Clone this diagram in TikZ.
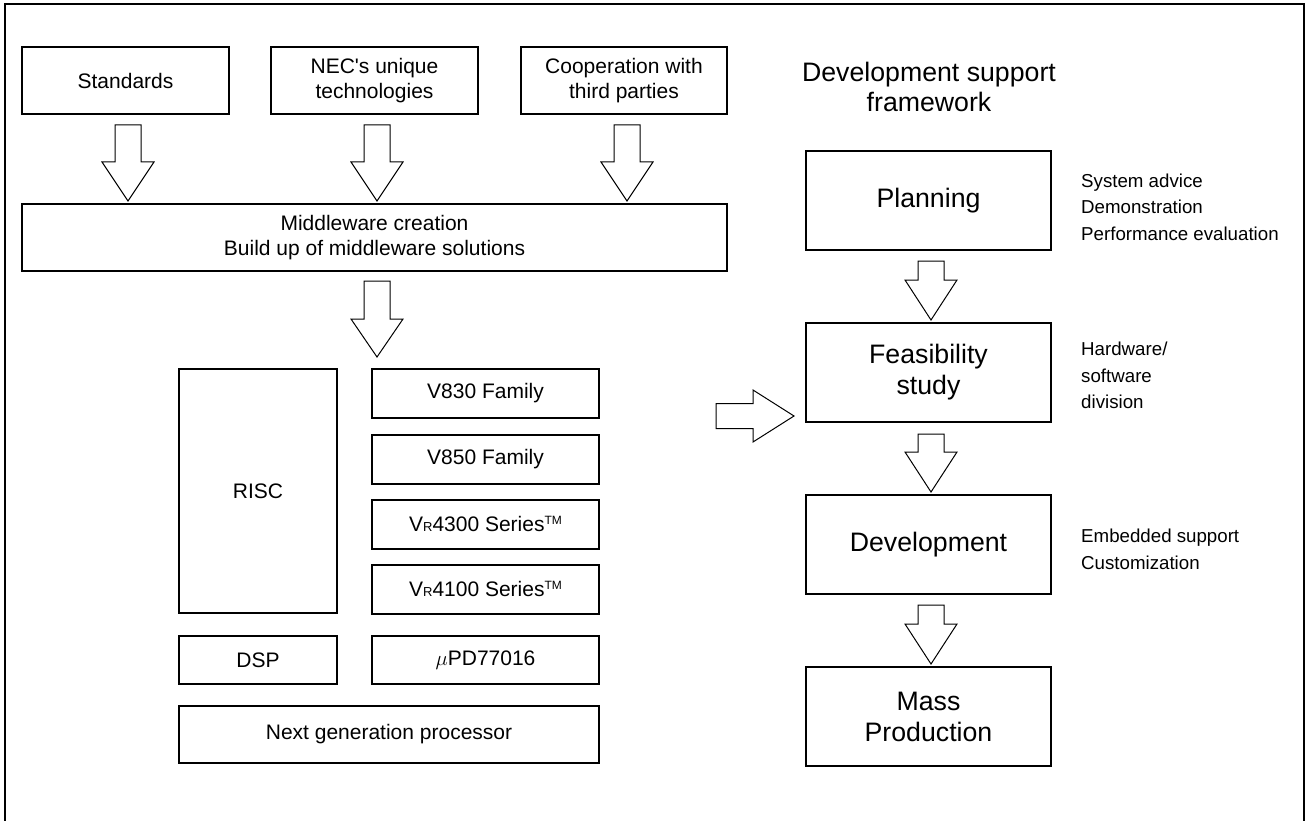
\documentclass[tikz,border=0pt]{standalone}
\usepackage{fontspec}
\setmainfont{Liberation Sans}[Ligatures=TeXOff]
\usetikzlibrary{calc}
\newcommand\myVR{V{\fontsize{13}{13}\selectfont R}}
\newcommand\myTM{\raisebox{7pt}{\fontsize{12}{12}\selectfont TM}}
\newcommand\blkdown[3]{%
  \draw[barrow] let \p1=(#1), \p2=(#2) in
   (\x1-13pt,\y1) -- (\x1+13pt,\y1) -- (\x1+13pt,\y2+#3) -- (\x1+26pt,\y2+#3)
   -- (\x1,\y2) -- (\x1-26pt,\y2+#3) -- (\x1-13pt,\y2+#3) -- cycle;}
\newcommand\blkright[3]{%
  \draw[barrow] let \p1=(#1), \p2=(#2) in
   (\x1,\y1+12.5pt) -- (\x2-#3,\y1+12.5pt) -- (\x2-#3,\y1+26pt) -- (\x2,\y1)
   -- (\x2-#3,\y1-26pt) -- (\x2-#3,\y1-12.5pt) -- (\x1,\y1-12.5pt) -- cycle;}
\begin{document}
\begin{tikzpicture}[x=1pt,y=-1pt,
  box/.style={draw, line width=2pt, align=center, inner sep=0pt, font=\fontsize{21}{25}\selectfont},
  topbox/.style={box, minimum width=207pt, minimum height=67pt},
  prodbox/.style={box, minimum width=227pt, minimum height=49pt},
  bigbox/.style={box, font=\fontsize{26.7}{31}\selectfont, minimum width=245pt, minimum height=99pt},
  side/.style={anchor=west, align=left, inner sep=0pt, font=\fontsize{18.7}{26.5}\selectfont},
  barrow/.style={draw, line width=1pt, fill=white, line join=miter}]
\useasboundingbox (0,0) rectangle (1311,821);
\draw[line width=1.5pt] (5,823) -- (5,4) -- (1304,4) -- (1304,823);

% left part
\node[topbox] (std) at (125.5,80.5) {Standards};
\node[topbox] (nec) at (374.5,80.5) {NEC's unique\\technologies};
\node[topbox, minimum width=206pt] (coop) at (624,80.5) {Cooperation with\\third parties};
\node[box, minimum width=705pt, minimum height=67pt] (mw) at (374.5,237.5) {Middleware creation\\Build up of middleware solutions};

\node[box, minimum width=158pt, minimum height=244pt] (risc) at (258,491) {RISC};
\node[prodbox] (v830) at (485.5,393.5) {V830 Family};
\node[prodbox] (v850) at (485.5,459) {V850 Family};
\node[prodbox] (vr43) at (485.5,524) {\myVR4300 Series\myTM};
\node[prodbox] (vr41) at (485.5,589) {\myVR4100 Series\myTM};
\node[box, minimum width=158pt, minimum height=48pt] (dsp) at (258,660) {DSP};
\node[prodbox, minimum height=48pt] (upd) at (485.5,660) {$\mu$PD77016};
\node[box, minimum width=420pt, minimum height=57pt] (next) at (389,734.5) {Next generation processor};

% right part
\node[font=\fontsize{26.7}{30}\selectfont, align=center, inner sep=0pt] (title) at (929,87) {Development support\\framework};
\node[bigbox] (plan) at (928.5,200.5) {Planning};
\node[bigbox] (feas) at (928.5,372.5) {Feasibility\\study};
\node[bigbox] (dev) at (928.5,544.5) {Development};
\node[bigbox] (mass) at (928.5,716.5) {Mass\\Production};

\node[side] (ps) at (1081,207) {System advice\\Demonstration\\Performance evaluation};
\node[side] (fs) at (1081,375.5) {Hardware/\\software\\division};
\node[side] (ds) at (1081,549.5) {Embedded support\\Customization};

% arrows
\coordinate (a1s) at ($(std.south)+(2.5,10)$);
\coordinate (a1e) at ($(a1s |- mw.north)+(0,-2)$);
\coordinate (a2s) at ($(nec.south)+(2.5,10)$);
\coordinate (a2e) at ($(a2s |- mw.north)+(0,-2)$);
\coordinate (a3s) at ($(coop.south)+(3,10)$);
\coordinate (a3e) at ($(a3s |- mw.north)+(0,-2)$);
\blkdown{a1s}{a1e}{39pt}
\blkdown{a2s}{a2e}{39pt}
\blkdown{a3s}{a3e}{39pt}

\coordinate (a4s) at ($(mw.south)+(2.5,9)$);
\coordinate (a4e) at ($(a4s |- v830.north)+(0,-11)$);
\blkdown{a4s}{a4e}{38pt}

\coordinate (b1s) at ($(plan.south)+(2.5,10)$);
\coordinate (b1e) at ($(b1s |- feas.north)+(0,-2)$);
\coordinate (b2s) at ($(feas.south)+(2.5,11)$);
\coordinate (b2e) at ($(b2s |- dev.north)+(0,-2)$);
\coordinate (b3s) at ($(dev.south)+(2.5,10)$);
\coordinate (b3e) at ($(b3s |- mass.north)+(0,-2)$);
\blkdown{b1s}{b1e}{40pt}
\blkdown{b2s}{b2e}{40pt}
\blkdown{b3s}{b3e}{40pt}

\coordinate (hs) at (716,416);
\coordinate (he) at ($(hs -| feas.west)+(-11,0)$);
\blkright{hs}{he}{41pt}
\end{tikzpicture}
\end{document}
